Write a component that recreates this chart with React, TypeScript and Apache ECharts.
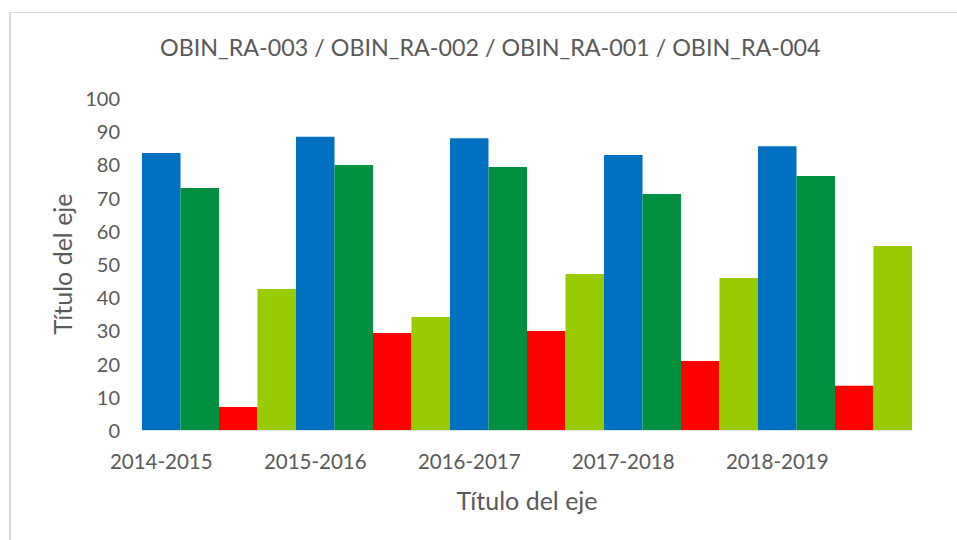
import React, { useEffect, useRef } from "react";
import * as echarts from "echarts";

const categories = ["2014-2015", "2015-2016", "2016-2017", "2017-2018", "2018-2019"];
const seriesNames = ["OBIN_RA-003", "OBIN_RA-002", "OBIN_RA-001", "OBIN_RA-004"];
const blueValues = [83.4, 88.3, 87.9, 82.8, 85.5];
const greenValues = [72.9, 79.8, 79.2, 71.1, 76.5];
const redValues = [6.9, 29.2, 29.8, 20.8, 13.3];
const limeValues = [42.5, 34.0, 47.0, 45.8, 55.4];
const seriesColors = ["#0070C0", "#00903F", "#FF0000", "#99CC00"];
const yTicks = { min: 0, max: 100, interval: 10 };
const chartTitle = "OBIN_RA-003 / OBIN_RA-002 / OBIN_RA-001 / OBIN_RA-004";
const axisTitle = "Título del eje";

const FONT = "Lato";
const TEXT = "#595959";

export default function App() {
  const ref = useRef<HTMLDivElement>(null);
  useEffect(() => {
    if (!ref.current) return;
    const chart = echarts.init(ref.current, null, { renderer: "svg" });
    const values = [blueValues, greenValues, redValues, limeValues];
    chart.setOption({
      animation: false,
      backgroundColor: "#ffffff",
      textStyle: { fontFamily: FONT, color: TEXT },
      title: {
        text: chartTitle,
        left: 160,
        top: 35,
        padding: 0,
        textStyle: { fontFamily: FONT, fontSize: 23.3, fontWeight: "normal", color: TEXT },
      },
      graphic: [
        { type: "line", shape: { x1: 10, y1: 12.5, x2: 957, y2: 12.5 }, style: { stroke: "#D9D9D9", lineWidth: 1 } },
        { type: "line", shape: { x1: 10, y1: 12, x2: 10, y2: 540 }, style: { stroke: "#D9D9D9", lineWidth: 2 } },
      ],
      grid: { left: 142, right: 45, top: 98, bottom: 110, containLabel: false },
      xAxis: {
        type: "category",
        data: categories,
        name: axisTitle,
        nameLocation: "middle",
        nameGap: 57,
        nameTextStyle: { fontFamily: FONT, fontSize: 25, color: TEXT },
        axisLine: { show: true, lineStyle: { color: "#D9D9D9", width: 1.5 } },
        axisTick: { show: false },
        axisLabel: {
          interval: 0,
          margin: 20,
          fontFamily: FONT,
          fontSize: 20.5,
          color: TEXT,
          padding: [0, 115.5, 0, 0],
        },
        splitLine: { show: false },
      },
      yAxis: {
        type: "value",
        min: yTicks.min,
        max: yTicks.max,
        interval: yTicks.interval,
        name: axisTitle,
        nameLocation: "middle",
        nameGap: 68,
        nameRotate: 90,
        nameTextStyle: { fontFamily: FONT, fontSize: 25, color: TEXT },
        axisLine: { show: false },
        axisTick: { show: false },
        splitLine: { show: false },
        axisLabel: { margin: 22, fontFamily: FONT, fontSize: 20, color: TEXT },
      },
      series: seriesNames.map((name, i) => ({
        name,
        type: "bar",
        data: values[i],
        barGap: "0%",
        barCategoryGap: "0%",
        itemStyle: { color: seriesColors[i] },
      })),
    });
    return () => chart.dispose();
  }, []);
  return (
    <div
      ref={ref}
      style={{ position: "absolute", left: 0, top: 0, width: 957, height: 540 }}
    />
  );
}
